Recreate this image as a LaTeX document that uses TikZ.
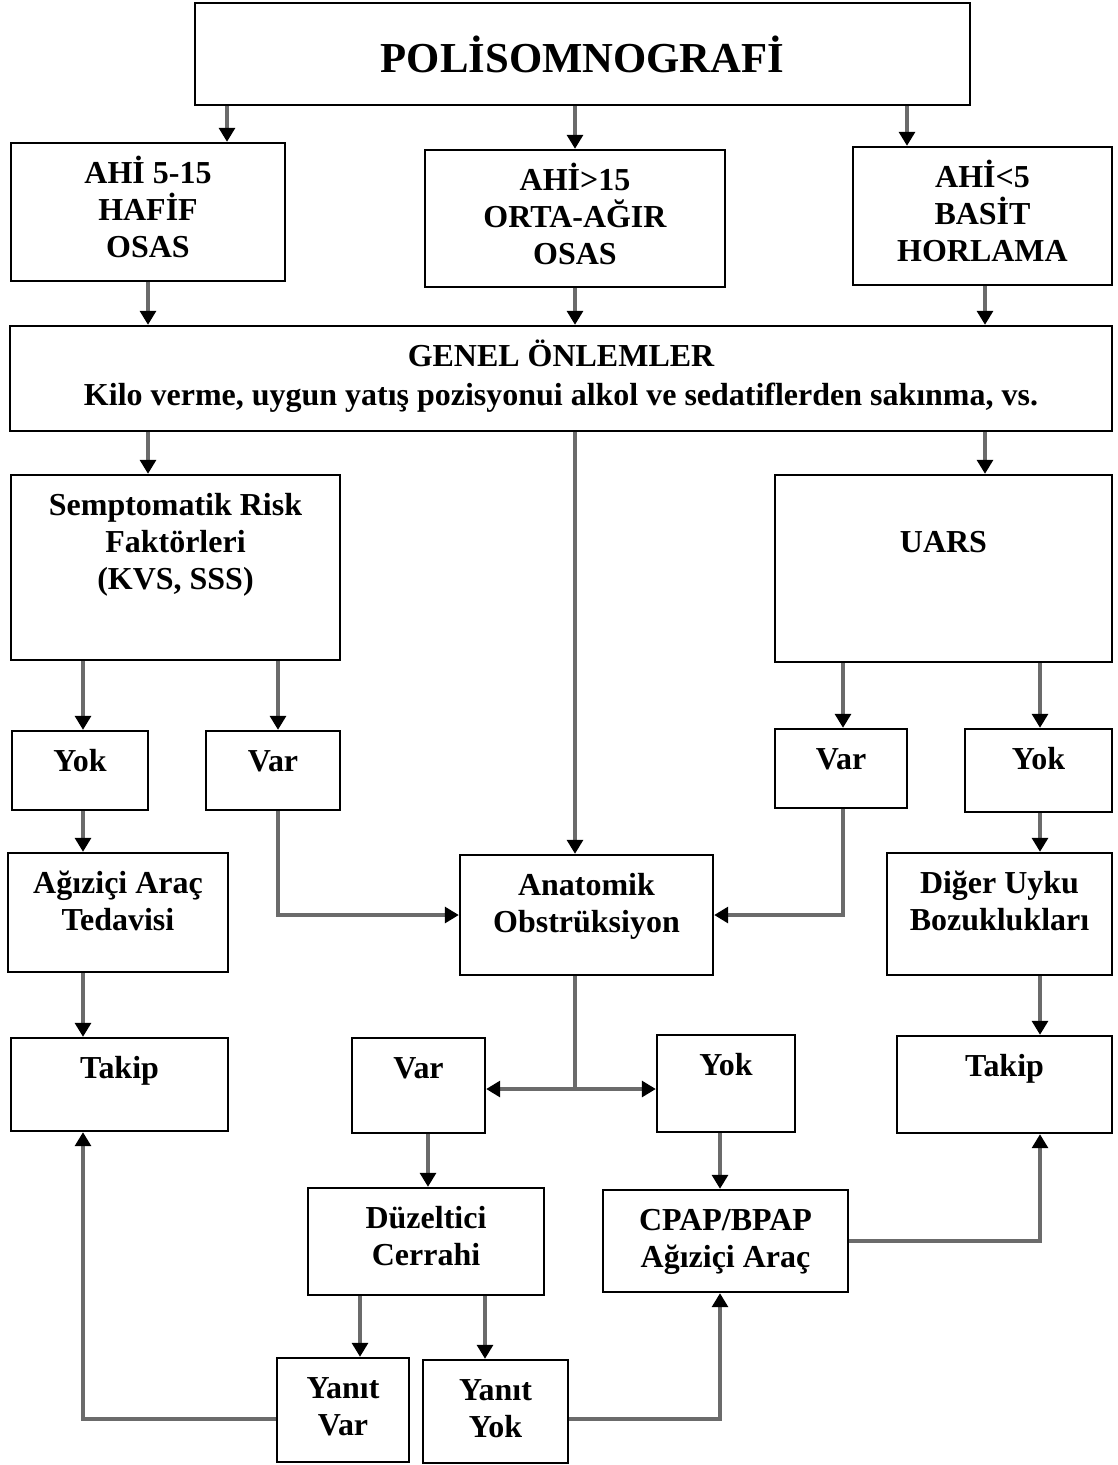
\documentclass[tikz,border=0pt]{standalone}
\usepackage{fontspec}
\setmainfont{Liberation Serif}
\usetikzlibrary{arrows.meta,positioning,fit}

\tikzset{
  box/.style={draw, line width=1.3pt, inner sep=0pt},
  txt/.style={font=\fontsize{18.2}{21}\selectfont\bfseries, align=center, inner sep=0pt},
  lbl/.style={txt, anchor=base, yshift=-0.84cm},
  lbltwo/.style={lbl, yshift=-21pt},
  lblthree/.style={lbl, yshift=-42pt},
  arr/.style={draw=black!58, line width=2pt, -{Triangle[width=9pt,length=8pt,color=black]}},
  ln/.style={draw=black!58, line width=2pt},
}

\begin{document}
\begin{tikzpicture}[x=0.02cm, y=-0.02cm]
    \useasboundingbox (0,0) rectangle (1117,1465);
    \fill[white] (0,0) rectangle (1117,1465);

    % columns and rows for the connectors
    \coordinate (cA) at (227,0);
    \coordinate (cB) at (575,0);
    \coordinate (cC) at (907,0);
    \coordinate (cD) at (148,0);
    \coordinate (cE) at (985,0);
    \coordinate (cF) at (83,0);
    \coordinate (cG) at (278,0);
    \coordinate (cH) at (843,0);
    \coordinate (cI) at (1040,0);
    \coordinate (cJ) at (428,0);
    \coordinate (cK) at (720,0);
    \coordinate (cL) at (360,0);
    \coordinate (cM) at (485,0);
    \coordinate (r2) at (0,1089);
    \coordinate (r4) at (0,1419);

    % Top box
    \node[box, fit={(195,3) (970,105)}] (poli) {};
    \node[txt, font=\fontsize{24.3}{28}\selectfont\bfseries] (poli-t) at (poli) {POLİSOMNOGRAFİ};

    % Severity
    \node[box, fit={(11,143) (285,281)}] (ahi1) {};
    \node[lblthree] (ahi1-t) at (ahi1.north) {AHİ 5-15\\HAFİF\\OSAS};
    \node[box, fit={(425,150) (725,287)}] (ahi2) {};
    \node[lblthree] (ahi2-t) at (ahi2.north) {AHİ>15\\ORTA-AĞIR\\OSAS};
    \node[box, fit={(853,147) (1112,285)}] (ahi3) {};
    \node[lblthree] (ahi3-t) at (ahi3.north) {AHİ<5\\BASİT\\HORLAMA};

    % General measures
    \node[box, fit={(10,326) (1112,431)}] (genel) {};
    \node[lbl, yshift=-22.2pt] (genel-t) at (genel.north) {GENEL ÖNLEMLER\\[1.2pt]Kilo verme, uygun yatış pozisyonui alkol ve sedatiflerden sakınma, vs.};

    % Second level
    \node[box, fit={(11,475) (340,660)}] (semp) {};
    \node[lblthree] (semp-t) at (semp.north) {Semptomatik Risk\\Faktörleri\\(KVS, SSS)};
    \node[box, fit={(775,475) (1112,662)}] (uars) {};
    \node[lbltwo] (uars-t) at (uars.north) {UARS};

    \node[box, fit={(12,731) (148,810)}] (yok1) {};
    \node[lbl] (yok1-t) at (yok1.north) {Yok};
    \node[box, fit={(206,731) (340,810)}] (var1) {};
    \node[lbl] (var1-t) at (var1.north) {Var};
    \node[box, fit={(775,729) (907,808)}] (var2) {};
    \node[lbl] (var2-t) at (var2.north) {Var};
    \node[box, fit={(965,729) (1112,812)}] (yok2) {};
    \node[lbl] (yok2-t) at (yok2.north) {Yok};

    \node[box, fit={(8,853) (228,972)}] (agiz) {};
    \node[lbltwo] (agiz-t) at (agiz.north) {Ağıziçi Araç\\Tedavisi};
    \node[box, fit={(460,855) (713,975)}] (anat) {};
    \node[lbltwo] (anat-t) at (anat.north) {Anatomik\\Obstrüksiyon};
    \node[box, fit={(887,853) (1112,975)}] (diger) {};
    \node[lbltwo] (diger-t) at (diger.north) {Diğer Uyku\\Bozuklukları};

    \node[box, fit={(11,1038) (228,1131)}] (takip1) {};
    \node[lbl] (takip1-t) at (takip1.north) {Takip};
    \node[box, fit={(352,1038) (485,1133)}] (var3) {};
    \node[lbl] (var3-t) at (var3.north) {Var};
    \node[box, fit={(657,1035) (795,1132)}] (yok3) {};
    \node[lbl] (yok3-t) at (yok3.north) {Yok};
    \node[box, fit={(897,1036) (1112,1133)}] (takip2) {};
    \node[lbl] (takip2-t) at (takip2.north) {Takip};

    \node[box, fit={(308,1188) (544,1295)}] (duz) {};
    \node[lbltwo] (duz-t) at (duz.north) {Düzeltici\\Cerrahi};
    \node[box, fit={(603,1190) (848,1292)}] (cpap) {};
    \node[lbltwo] (cpap-t) at (cpap.north) {CPAP/BPAP\\Ağıziçi Araç};

    \node[box, fit={(277,1358) (409,1462)}] (yvar) {};
    \node[lbltwo] (yvar-t) at (yvar.north) {Yanıt\\Var};
    \node[box, fit={(423,1360) (568,1463)}] (yyok) {};
    \node[lbltwo] (yyok-t) at (yyok.north) {Yanıt\\Yok};

    % Connectors
    \draw[arr] (poli.south -| cA) -- (ahi1.north -| cA);
    \draw[arr] (poli.south -| cB) -- (ahi2.north -| cB);
    \draw[arr] (poli.south -| cC) -- (ahi3.north -| cC);
    \draw[arr] (ahi1.south -| cD) -- (genel.north -| cD);
    \draw[arr] (ahi2.south -| cB) -- (genel.north -| cB);
    \draw[arr] (ahi3.south -| cE) -- (genel.north -| cE);
    \draw[arr] (genel.south -| cD) -- (semp.north -| cD);
    \draw[arr] (genel.south -| cB) -- (anat.north -| cB);
    \draw[arr] (genel.south -| cE) -- (uars.north -| cE);
    \draw[arr] (semp.south -| cF) -- (yok1.north -| cF);
    \draw[arr] (semp.south -| cG) -- (var1.north -| cG);
    \draw[arr] (uars.south -| cH) -- (var2.north -| cH);
    \draw[arr] (uars.south -| cI) -- (yok2.north -| cI);
    \draw[arr] (yok1.south -| cF) -- (agiz.north -| cF);
    \draw[arr] (var1.south -| cG) |- (anat.west);
    \draw[arr] (var2.south -| cH) |- (anat.east);
    \draw[arr] (yok2.south -| cI) -- (diger.north -| cI);
    \draw[arr] (agiz.south -| cF) -- (takip1.north -| cF);
    \draw[arr] (diger.south -| cI) -- (takip2.north -| cI);
    \draw[ln] (anat.south -| cB) -- (cB |- r2) coordinate (split);
    \draw[arr] (split) -- (var3.east |- split);
    \draw[arr] (split) -- (yok3.west |- split);
    \draw[arr] (var3.south -| cJ) -- (duz.north -| cJ);
    \draw[arr] (yok3.south -| cK) -- (cpap.north -| cK);
    \draw[arr] (cpap.east) -| (takip2.south -| cI);
    \draw[arr] (duz.south -| cL) -- (yvar.north -| cL);
    \draw[arr] (duz.south -| cM) -- (yyok.north -| cM);
    \draw[arr] (yvar.west |- r4) -| (takip1.south -| cF);
    \draw[arr] (yyok.east |- r4) -| (cpap.south -| cK);
\end{tikzpicture}
\end{document}
